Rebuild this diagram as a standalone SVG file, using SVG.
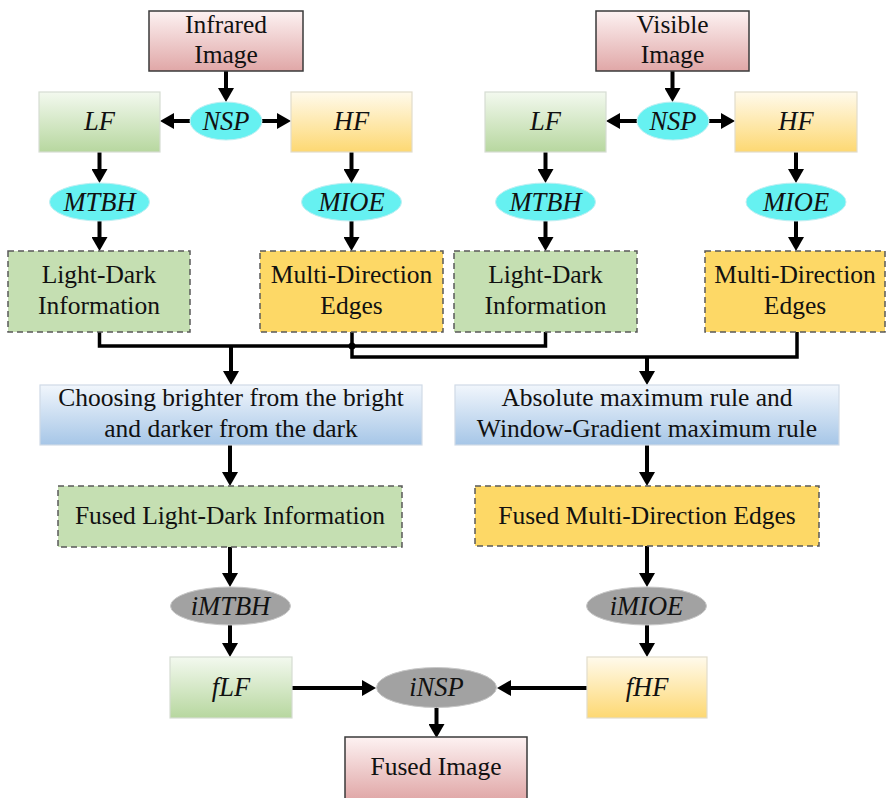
<svg xmlns="http://www.w3.org/2000/svg" width="886" height="798" viewBox="0 0 886 798">
<style>
text{font-family:"Liberation Serif","Times New Roman",serif;font-size:25.5px;fill:#111;text-anchor:middle}
.it{font-style:italic;font-size:26.5px}
.red{fill:url(#gRed);stroke:#3a3a3a;stroke-width:1.5}
.grn{fill:url(#gGreen);stroke:#d6ddd2;stroke-width:1.2}
.yel{fill:url(#gYellow);stroke:#e2dccb;stroke-width:1.2}
.blu{fill:url(#gBlue);stroke:#d0dae6;stroke-width:1.2}
.dgrn{fill:#c5dfb2;stroke:#5a5a5a;stroke-width:1.5;stroke-dasharray:6 4}
.dyel{fill:#fdd866;stroke:#5a5a5a;stroke-width:1.5;stroke-dasharray:6 4}
.cyan{fill:#66f1f1;stroke:#bfeff2;stroke-width:1}
.gray{fill:#a2a2a2;stroke:#c8c8c8;stroke-width:1}
.ar{fill:none;stroke:#000;stroke-width:4;marker-end:url(#ah)}
.ln{fill:none;stroke:#000;stroke-width:3.5}
</style>
<defs>
<linearGradient id="gRed" x1="0" y1="0" x2="0" y2="1"><stop offset="0" stop-color="#fdf2f2"/><stop offset="1" stop-color="#e0a7a7"/></linearGradient>
<linearGradient id="gGreen" x1="0" y1="0" x2="0" y2="1"><stop offset="0" stop-color="#f3f9ef"/><stop offset="1" stop-color="#b7d79f"/></linearGradient>
<linearGradient id="gYellow" x1="0" y1="0" x2="0" y2="1"><stop offset="0" stop-color="#fffaec"/><stop offset="1" stop-color="#fdd872"/></linearGradient>
<linearGradient id="gBlue" x1="0" y1="0" x2="0" y2="1"><stop offset="0" stop-color="#f1f6fc"/><stop offset="1" stop-color="#a6c6e7"/></linearGradient>
<marker id="ah" viewBox="0 0 14 16" refX="3" refY="8" markerWidth="14" markerHeight="16" markerUnits="userSpaceOnUse" orient="auto"><path d="M0,0 L14,8 L0,16 z" fill="#000"/></marker>
</defs>

<g id="connectors">
<line class="ar" x1="226" y1="71" x2="226" y2="91"/>
<line class="ar" x1="190" y1="121" x2="171" y2="121"/>
<line class="ar" x1="262" y1="121" x2="280" y2="121"/>
<line class="ar" x1="99.5" y1="152" x2="99.5" y2="172"/>
<line class="ar" x1="351.5" y1="152" x2="351.5" y2="172"/>
<line class="ar" x1="99.5" y1="221" x2="99.5" y2="240"/>
<line class="ar" x1="351.5" y1="221" x2="351.5" y2="240"/>
<line class="ar" x1="672.5" y1="71" x2="672.5" y2="91"/>
<line class="ar" x1="637" y1="121" x2="617" y2="121"/>
<line class="ar" x1="709" y1="121" x2="724" y2="121"/>
<line class="ar" x1="545.5" y1="152" x2="545.5" y2="172"/>
<line class="ar" x1="796" y1="152" x2="796" y2="172"/>
<line class="ar" x1="545.5" y1="221" x2="545.5" y2="240"/>
<line class="ar" x1="796" y1="221" x2="796" y2="240"/>
<path class="ln" d="M99.5,332 V346 H545.5 V332"/>
<path class="ln" d="M352,332 V357 H797 V332"/>
<circle cx="352" cy="346" r="3.5" fill="#000"/>
<line class="ar" x1="231" y1="346" x2="231" y2="374"/>
<line class="ar" x1="647" y1="357" x2="647" y2="374"/>
<line class="ar" x1="230" y1="445" x2="230" y2="475"/>
<line class="ar" x1="647" y1="445" x2="647" y2="475"/>
<line class="ar" x1="230" y1="547" x2="230" y2="576"/>
<line class="ar" x1="647" y1="546" x2="647" y2="576"/>
<line class="ar" x1="230" y1="625" x2="230" y2="646"/>
<line class="ar" x1="647" y1="625" x2="647" y2="646"/>
<line class="ar" x1="292" y1="688" x2="365" y2="688"/>
<line class="ar" x1="587" y1="688" x2="508" y2="688"/>
<line class="ar" x1="436.5" y1="707" x2="436.5" y2="727"/>
</g>

<g id="infrared"><rect class="red" x="149" y="11" width="154" height="60"/><text x="226" y="33">Infrared</text><text x="226" y="63">Image</text></g>
<g id="visible"><rect class="red" x="596" y="11" width="153" height="60"/><text x="672.5" y="33">Visible</text><text x="672.5" y="63">Image</text></g>

<g id="nsp-l"><ellipse class="cyan" cx="226" cy="121" rx="36" ry="19"/><text class="it" x="226" y="129.5">NSP</text></g>
<g id="nsp-r"><ellipse class="cyan" cx="673" cy="121" rx="36" ry="19"/><text class="it" x="673" y="129.5">NSP</text></g>

<g id="lf-l"><rect class="grn" x="39" y="92" width="121" height="60"/><text class="it" x="99.5" y="130">LF</text></g>
<g id="hf-l"><rect class="yel" x="291" y="92" width="121" height="60"/><text class="it" x="351.5" y="130">HF</text></g>
<g id="lf-r"><rect class="grn" x="485" y="92" width="121" height="60"/><text class="it" x="545.5" y="130">LF</text></g>
<g id="hf-r"><rect class="yel" x="735" y="92" width="122" height="60"/><text class="it" x="796" y="130">HF</text></g>

<g id="mtbh-l"><ellipse class="cyan" cx="99.5" cy="202" rx="50" ry="19"/><text class="it" x="99.5" y="211">MTBH</text></g>
<g id="mioe-l"><ellipse class="cyan" cx="351.5" cy="202" rx="50" ry="19"/><text class="it" x="351.5" y="211">MIOE</text></g>
<g id="mtbh-r"><ellipse class="cyan" cx="545.5" cy="202" rx="50" ry="19"/><text class="it" x="545.5" y="211">MTBH</text></g>
<g id="mioe-r"><ellipse class="cyan" cx="796" cy="202" rx="50" ry="19"/><text class="it" x="796" y="211">MIOE</text></g>

<g id="ldi-l"><rect class="dgrn" x="8" y="251" width="182" height="81"/><text x="99" y="283">Light-Dark</text><text x="99" y="314">Information</text></g>
<g id="mde-l"><rect class="dyel" x="260" y="251" width="183" height="81"/><text x="351.5" y="283">Multi-Direction</text><text x="351.5" y="314">Edges</text></g>
<g id="ldi-r"><rect class="dgrn" x="454" y="251" width="183" height="81"/><text x="545.5" y="283">Light-Dark</text><text x="545.5" y="314">Information</text></g>
<g id="mde-r"><rect class="dyel" x="705" y="251" width="180" height="81"/><text x="795" y="283">Multi-Direction</text><text x="795" y="314">Edges</text></g>

<g id="choose"><rect class="blu" x="40" y="385" width="382" height="60"/><text x="231" y="406">Choosing brighter from the bright</text><text x="231" y="437">and darker from the dark</text></g>
<g id="absmax"><rect class="blu" x="455" y="385" width="384" height="60"/><text x="647" y="406">Absolute maximum rule and</text><text x="647" y="437">Window-Gradient maximum rule</text></g>

<g id="fused-ldi"><rect class="dgrn" x="58" y="486" width="344" height="61"/><text x="230" y="524">Fused Light-Dark Information</text></g>
<g id="fused-mde"><rect class="dyel" x="475" y="486" width="344" height="60"/><text x="647" y="524">Fused Multi-Direction Edges</text></g>

<g id="imtbh"><ellipse class="gray" cx="230.5" cy="606" rx="60" ry="19"/><text class="it" x="230.5" y="615">iMTBH</text></g>
<g id="imioe"><ellipse class="gray" cx="646.5" cy="606" rx="60" ry="19"/><text class="it" x="646.5" y="615">iMIOE</text></g>

<g id="flf"><rect class="grn" x="170" y="657" width="122" height="61"/><text class="it" x="231" y="696">fLF</text></g>
<g id="fhf"><rect class="yel" x="587" y="657" width="120" height="61"/><text class="it" x="647" y="696">fHF</text></g>

<g id="insp"><ellipse class="gray" cx="436.5" cy="687.5" rx="60" ry="20"/><text class="it" x="436.5" y="696">iNSP</text></g>

<g id="fused-image"><rect class="red" x="345" y="737" width="182" height="63"/><text x="436" y="775">Fused Image</text></g>
</svg>
